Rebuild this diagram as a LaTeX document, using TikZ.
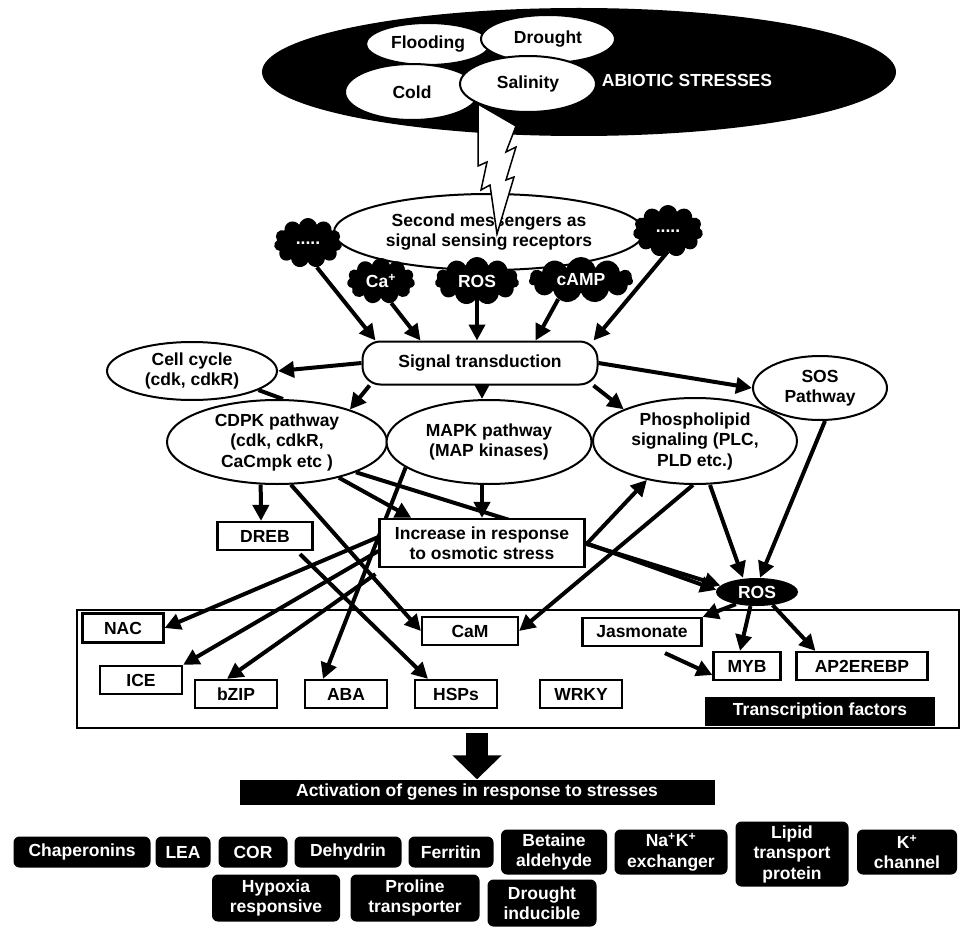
\documentclass[tikz,border=0pt]{standalone}
\usepackage{fontspec}
\setmainfont{Liberation Sans}
\usetikzlibrary{shapes.geometric,shapes.symbols,arrows.meta,backgrounds}

\tikzset{
  lbl/.style={font=\bfseries\fontsize{17.5}{20.5}\selectfont, align=center},
  oval/.style={ellipse, draw, line width=2pt, fill=white, inner sep=0pt, lbl},
  tfbox/.style={rectangle, draw, line width=2.2pt, fill=white, minimum width=82pt, minimum height=28pt, inner sep=0pt, lbl},
  blob/.style={cloud, cloud puffs=11, cloud ignores aspect, fill=black, text=white, inner sep=0pt, lbl},
  gene/.style={rectangle, rounded corners=6pt, fill=black, text=white, inner sep=0pt, lbl},
  arr/.style={-{Triangle[length=16pt,width=16pt]}, line width=4pt},
  link/.style={line width=4pt}
}

\begin{document}
\begin{tikzpicture}[x=1pt, y=-1pt]
\useasboundingbox (0,0) rectangle (961,928);

% Abiotic stresses
\node[ellipse, fill=black, minimum width=634pt, minimum height=128pt] (abiotic) at (579,72) {};
\node[oval, minimum width=124pt, minimum height=42pt] (flood) at (428,44) {Flooding};
\node[oval, minimum width=134pt, minimum height=48pt] (drought) at (548,39) {Drought};
\node[oval, minimum width=134pt, minimum height=56pt] (cold) at (412,92) {Cold};
\node[oval, minimum width=136pt, minimum height=56pt] (salin) at (528,84) {Salinity};
\node[lbl, text=white] (abtext) at (687,80) {ABIOTIC STRESSES};

% Second messengers
\node[oval, minimum width=310pt, minimum height=76pt] (sm) at (489,232) {Second messengers as\\signal sensing receptors};
% lightning
\filldraw[fill=white, line width=1.5pt, line join=miter] (478,104) -- (516,126) -- (506,152) -- (516,147) -- (506,180) -- (514,177) -- (497,234) -- (490,185) -- (481,190) -- (487,162) -- (478,166) -- cycle;

% Clouds
\node[blob, minimum width=68pt, minimum height=50pt] (dots1) at (308,243) {.....};
\node[blob, minimum width=68pt, minimum height=46pt] (ca) at (381,281) {Ca\textsuperscript{+}};
\node[blob, minimum width=84pt, minimum height=48pt] (roscl) at (477,281) {ROS};
\node[blob, minimum width=104pt, minimum height=46pt] (camp) at (581,280) {cAMP};
\node[blob, minimum width=70pt, minimum height=52pt] (dots2) at (668,231) {.....};

% Pathways
\node[rectangle, rounded corners=18pt, draw, line width=2pt, fill=white, minimum width=235pt, minimum height=43pt, lbl] (st) at (480,363) {Signal transduction};
\node[oval, minimum width=170pt, minimum height=58pt] (cc) at (192,371) {Cell cycle\\(cdk, cdkR)};
\node[oval, minimum width=220pt, minimum height=84pt] (cdpk) at (277,442) {CDPK pathway\\(cdk, cdkR,\\CaCmpk etc )};
\node[oval, minimum width=205pt, minimum height=84pt] (mapk) at (489,442) {MAPK pathway\\(MAP kinases)};
\node[oval, minimum width=204pt, minimum height=86pt] (pl) at (695,441) {Phospholipid\\signaling (PLC,\\PLD etc.)};
\node[oval, minimum width=134pt, minimum height=64pt] (sos) at (820,388) {SOS\\Pathway};
\node[tfbox, minimum width=95pt] (dreb) at (265,536) {DREB};
\node[tfbox, minimum width=205pt, minimum height=48pt] (inc) at (482,543) {Increase in response\\to osmotic stress};
\node[ellipse, fill=black, text=white, minimum width=82pt, minimum height=28pt, inner sep=0pt, lbl] (ros) at (757,592) {ROS};

% Transcription factors
\node[draw, line width=2pt, minimum width=882pt, minimum height=118pt, inner sep=0pt] (tf) at (518,669) {};
\node[tfbox, minimum width=81pt, minimum height=29pt] (nac) at (123,628) {NAC};
\node[tfbox] (ice) at (141,680) {ICE};
\node[tfbox] (bzip) at (236,694) {bZIP};
\node[tfbox] (aba) at (346,694) {ABA};
\node[tfbox] (hsps) at (456,694) {HSPs};
\node[tfbox, minimum width=96pt] (cam) at (470,631) {CaM};
\node[tfbox, minimum width=119pt] (jas) at (642,632) {Jasmonate};
\node[tfbox, minimum width=67pt] (myb) at (747,666) {MYB};
\node[tfbox, minimum width=131pt] (ap2) at (862,666) {AP2EREBP};
\node[tfbox] (wrky) at (581,694) {WRKY};
\node[rectangle, fill=black, text=white, minimum width=230pt, minimum height=29pt, inner sep=0pt, lbl] (tftitle) at (820,711) {Transcription factors};

% Genes
\node[rectangle, fill=black, text=white, minimum width=475pt, minimum height=25pt, inner sep=0pt, lbl] (act) at (477,792) {Activation of genes in response to stresses};
\node[gene, minimum width=137pt, minimum height=31pt] (chap) at (82,852) {Chaperonins};
\node[gene, minimum width=55pt, minimum height=31pt] (lea) at (183,852) {LEA};
\node[gene, minimum width=69pt, minimum height=31pt] (cor) at (253,852) {COR};
\node[gene, minimum width=107pt, minimum height=31pt] (dehyd) at (348,852) {Dehydrin};
\node[gene, minimum width=85pt, minimum height=31pt] (ferr) at (451,852) {Ferritin};
\node[gene, minimum width=106pt, minimum height=45pt] (betaine) at (554,852) {Betaine\\aldehyde};
\node[gene, minimum width=113pt, minimum height=45pt] (nak) at (671,852) {Na\textsuperscript{+}K\textsuperscript{+}\\exchanger};
\node[gene, minimum width=113pt, minimum height=65pt] (lipid) at (792,854) {Lipid\\transport\\protein};
\node[gene, minimum width=100pt, minimum height=45pt] (kch) at (907,852) {K\textsuperscript{+}\\channel};
\node[gene, minimum width=128pt, minimum height=47pt] (hypox) at (276,898) {Hypoxia\\responsive};
\node[gene, minimum width=129pt, minimum height=47pt] (prol) at (415,898) {Proline\\transporter};
\node[gene, minimum width=109pt, minimum height=47pt] (dind) at (542,903) {Drought\\inducible};

% Big arrow
\draw[-{Triangle[length=24pt,width=48pt]}, line width=22pt] ([yshift=-4pt]act.north |- tf.south) -- (act.north);

\begin{scope}[on background layer]
% Messengers to signal transduction
\draw[arr] (dots1.-70) -- ([xshift=14pt]st.north west);
\draw[arr] (ca.-65) -- ([xshift=59pt]st.north west);
\draw[arr] (roscl.south) -- (roscl.south |- st.north);
\draw[arr] (camp.-140) -- ([xshift=-63pt]st.north east);
\draw[arr] (dots2.south) -- ([xshift=-5pt]st.north east);

% Signal transduction outputs
\draw[arr] (st.west) -- (cc.east);
\draw[arr] ([xshift=8pt]st.south west) -- (cdpk.24);
\draw[arr] (inc.north |- st.south) -- (inc.north |- mapk.north);
\draw[arr] ([xshift=-5pt]st.south east) -- (pl.156);
\draw[arr] (st.east) -- (sos.west);
\draw[link] (cc.-16) -- (cdpk.82);

% Pathways to responses
\draw[arr] (cdpk.-111) -- ([xshift=-4pt]dreb.north);
\draw[arr] (cdpk.-72) -- (cam.west);
\draw[arr] (cdpk.-30) -- ([xshift=33pt]inc.north west);
\draw[arr] (cdpk.-21) -- (ros.170);
\draw[arr] (inc.north |- mapk.south) -- (inc.north);
\draw[arr] (mapk.-163) -- ([xshift=-23pt]aba.north);
\draw[arr] ([yshift=6pt]inc.west) -- (nac.east);
\draw[arr] ([yshift=-8pt]inc.west) -- (ice.north east);
\draw[arr] ([shift={(-3pt,-6pt)}]inc.south west) -- ([xshift=-9pt]bzip.north);
\draw[arr] ([shift={(35pt,-3pt)}]dreb.south) -- ([xshift=-28pt]hsps.north);
\draw[arr] (inc.east) -- (ros.177);
\draw[arr] ([yshift=-2pt]inc.east) -- (pl.-141);
\draw[arr] ([xshift=-2pt]pl.south) -- (cam.east);
\draw[arr] ([xshift=15pt]pl.south) -- ([xshift=-14pt]ros.north);
\draw[arr] ([xshift=5pt]sos.south) -- ([xshift=3pt]ros.north);

% ROS to factors
\draw[arr] (ros.-150) -- (jas.north east);
\draw[arr] (ros.-115) -- ([xshift=-7pt]myb.north);
\draw[arr] (ros.-40) -- ([xshift=20pt]ap2.north west);
\draw[arr] ([shift={(23pt,-6pt)}]jas.south) -- ([yshift=-9pt]myb.west);
\end{scope}
\end{tikzpicture}
\end{document}
